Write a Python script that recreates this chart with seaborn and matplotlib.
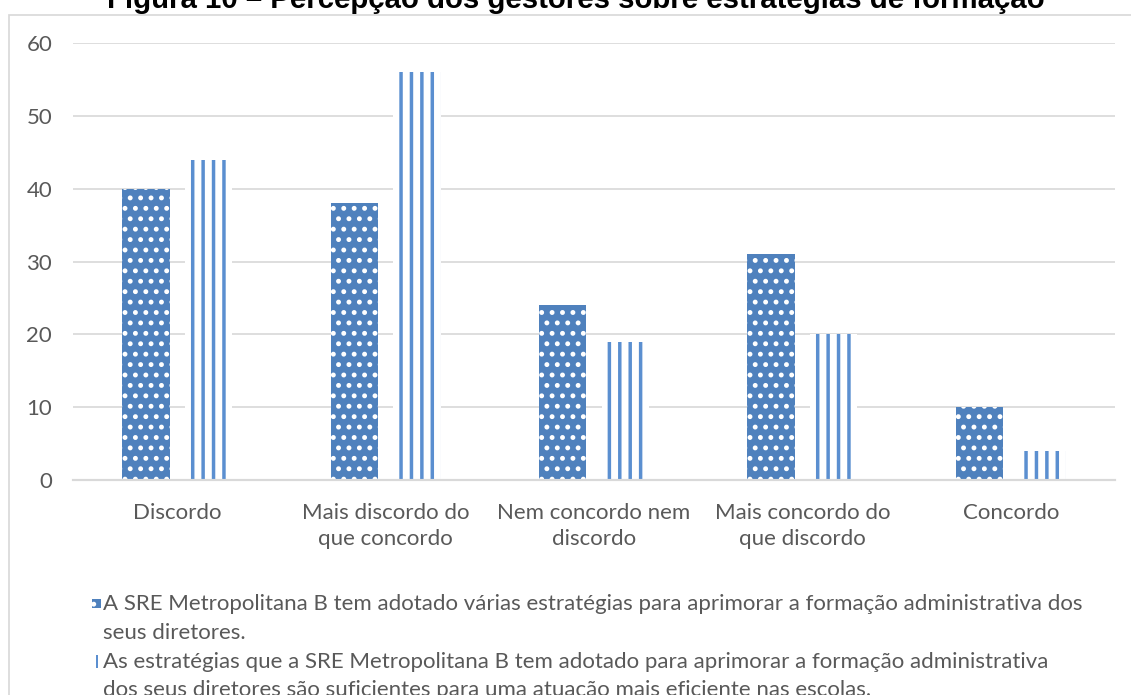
import pandas as pd
import seaborn as sns
import matplotlib.pyplot as plt
from matplotlib.patches import Patch, Rectangle
from matplotlib.legend_handler import HandlerPatch

# Data
categorias = ['Discordo', 'Mais discordo do\nque concordo', 'Nem concordo nem\ndiscordo',
              'Mais concordo do\nque discordo', 'Concordo']
serie_1 = [40, 38, 24, 31, 10]
serie_2 = [44, 56, 19, 20, 4]
rotulo_1 = ('A SRE Metropolitana B tem adotado várias estratégias para aprimorar a formação administrativa dos\n'
            'seus diretores.')
rotulo_2 = ('As estratégias que a SRE Metropolitana B tem adotado para aprimorar a formação administrativa\n'
            'dos seus diretores são suficientes para uma atuação mais eficiente nas escolas.')
titulo = 'Figura 10 – Percepção dos gestores sobre estratégias de formação'

azul = '#4F81BD'
azul_listra = '#5B8FD0'
cinza_texto = '#595959'
cinza_grade = '#D9D9D9'

DPI = 125
W, H = 1131, 695

sns.set_theme(style="white")
plt.rcParams['font.family'] = ['Lato', 'DejaVu Sans']
plt.rcParams['hatch.linewidth'] = 1.6

df = pd.DataFrame({
    'categoria': categorias * 2,
    'valor': serie_1 + serie_2,
    'serie': ['s1'] * len(categorias) + ['s2'] * len(categorias),
})

fig = plt.figure(figsize=(W / DPI, H / DPI), dpi=DPI)
ax = fig.add_axes([73 / W, 1 - 480 / H, 1042 / W, 437 / H])

sns.barplot(data=df, x='categoria', y='valor', hue='serie', palette=[azul, 'white'],
            width=0.6, gap=0.24, legend=False, ax=ax, saturation=1)

# pattern fills: white dots on blue, blue vertical stripes on white
n = len(categorias)
for i, p in enumerate(ax.patches):
    if i < n:
        p.set_facecolor(azul)
        p.set_edgecolor('white')
        p.set_hatch('..')
    else:
        p.set_facecolor('white')
        p.set_edgecolor(azul_listra)
        p.set_hatch('||')
        p._hatch_linewidth = 2.0
    p.set_linewidth(0)

ax.set_ylim(0, 60)
ax.set_yticks(range(0, 61, 10))
ax.grid(axis='y', color=cinza_grade, linewidth=1)
ax.set_axisbelow(True)
for s in ['top', 'right', 'left']:
    ax.spines[s].set_visible(False)
ax.spines['bottom'].set_color(cinza_grade)
ax.set_xlabel('')
ax.set_ylabel('')
ax.tick_params(axis='both', length=0, labelsize=12.8, labelcolor=cinza_texto)
ax.tick_params(axis='y', pad=12)
ax.tick_params(axis='x', pad=13)
for t in ax.get_xticklabels():
    t.set_linespacing(1.4)


# legend markers sit next to the first line of each label
def marcador(legend, orig_handle, xdescent, ydescent, width, height, fontsize):
    if orig_handle.get_hatch() == '..':
        return Rectangle((-xdescent, -ydescent + 9.0), 5.2, 5.2)
    return Rectangle((-xdescent + 2.2, -ydescent + 8.0), 1.4, 7.5)


h1 = Patch(facecolor=azul, edgecolor='white', hatch='..', linewidth=0)
h2 = Patch(facecolor=azul_listra, edgecolor=azul_listra, hatch='', linewidth=0)
leg = fig.legend([h1, h2], [rotulo_1, rotulo_2], loc='upper left', bbox_to_anchor=(92 / W, 1 - 594 / H),
                 frameon=False, fontsize=12.8, labelcolor=cinza_texto, handlelength=0.4,
                 handleheight=0.4, handletextpad=0.1, labelspacing=0.4, borderpad=0, borderaxespad=0,
                 handler_map={Patch: HandlerPatch(patch_func=marcador)})
for t in leg.get_texts():
    t.set_linespacing(1.55)

# outer border and title (title partially clipped at the top, as in the reference)
fig.patches.append(Rectangle((9 / W, -0.1), 1.2, 1.1 - 15 / H, transform=fig.transFigure,
                             fill=False, edgecolor=cinza_grade, linewidth=1))
fig.text(576 / W, 1 - 8 / H, titulo, ha='center', va='baseline', fontsize=16.9,
         fontweight='bold', family=['Liberation Sans', 'DejaVu Sans'], color='black')

fig.savefig('out.png', dpi=DPI)
